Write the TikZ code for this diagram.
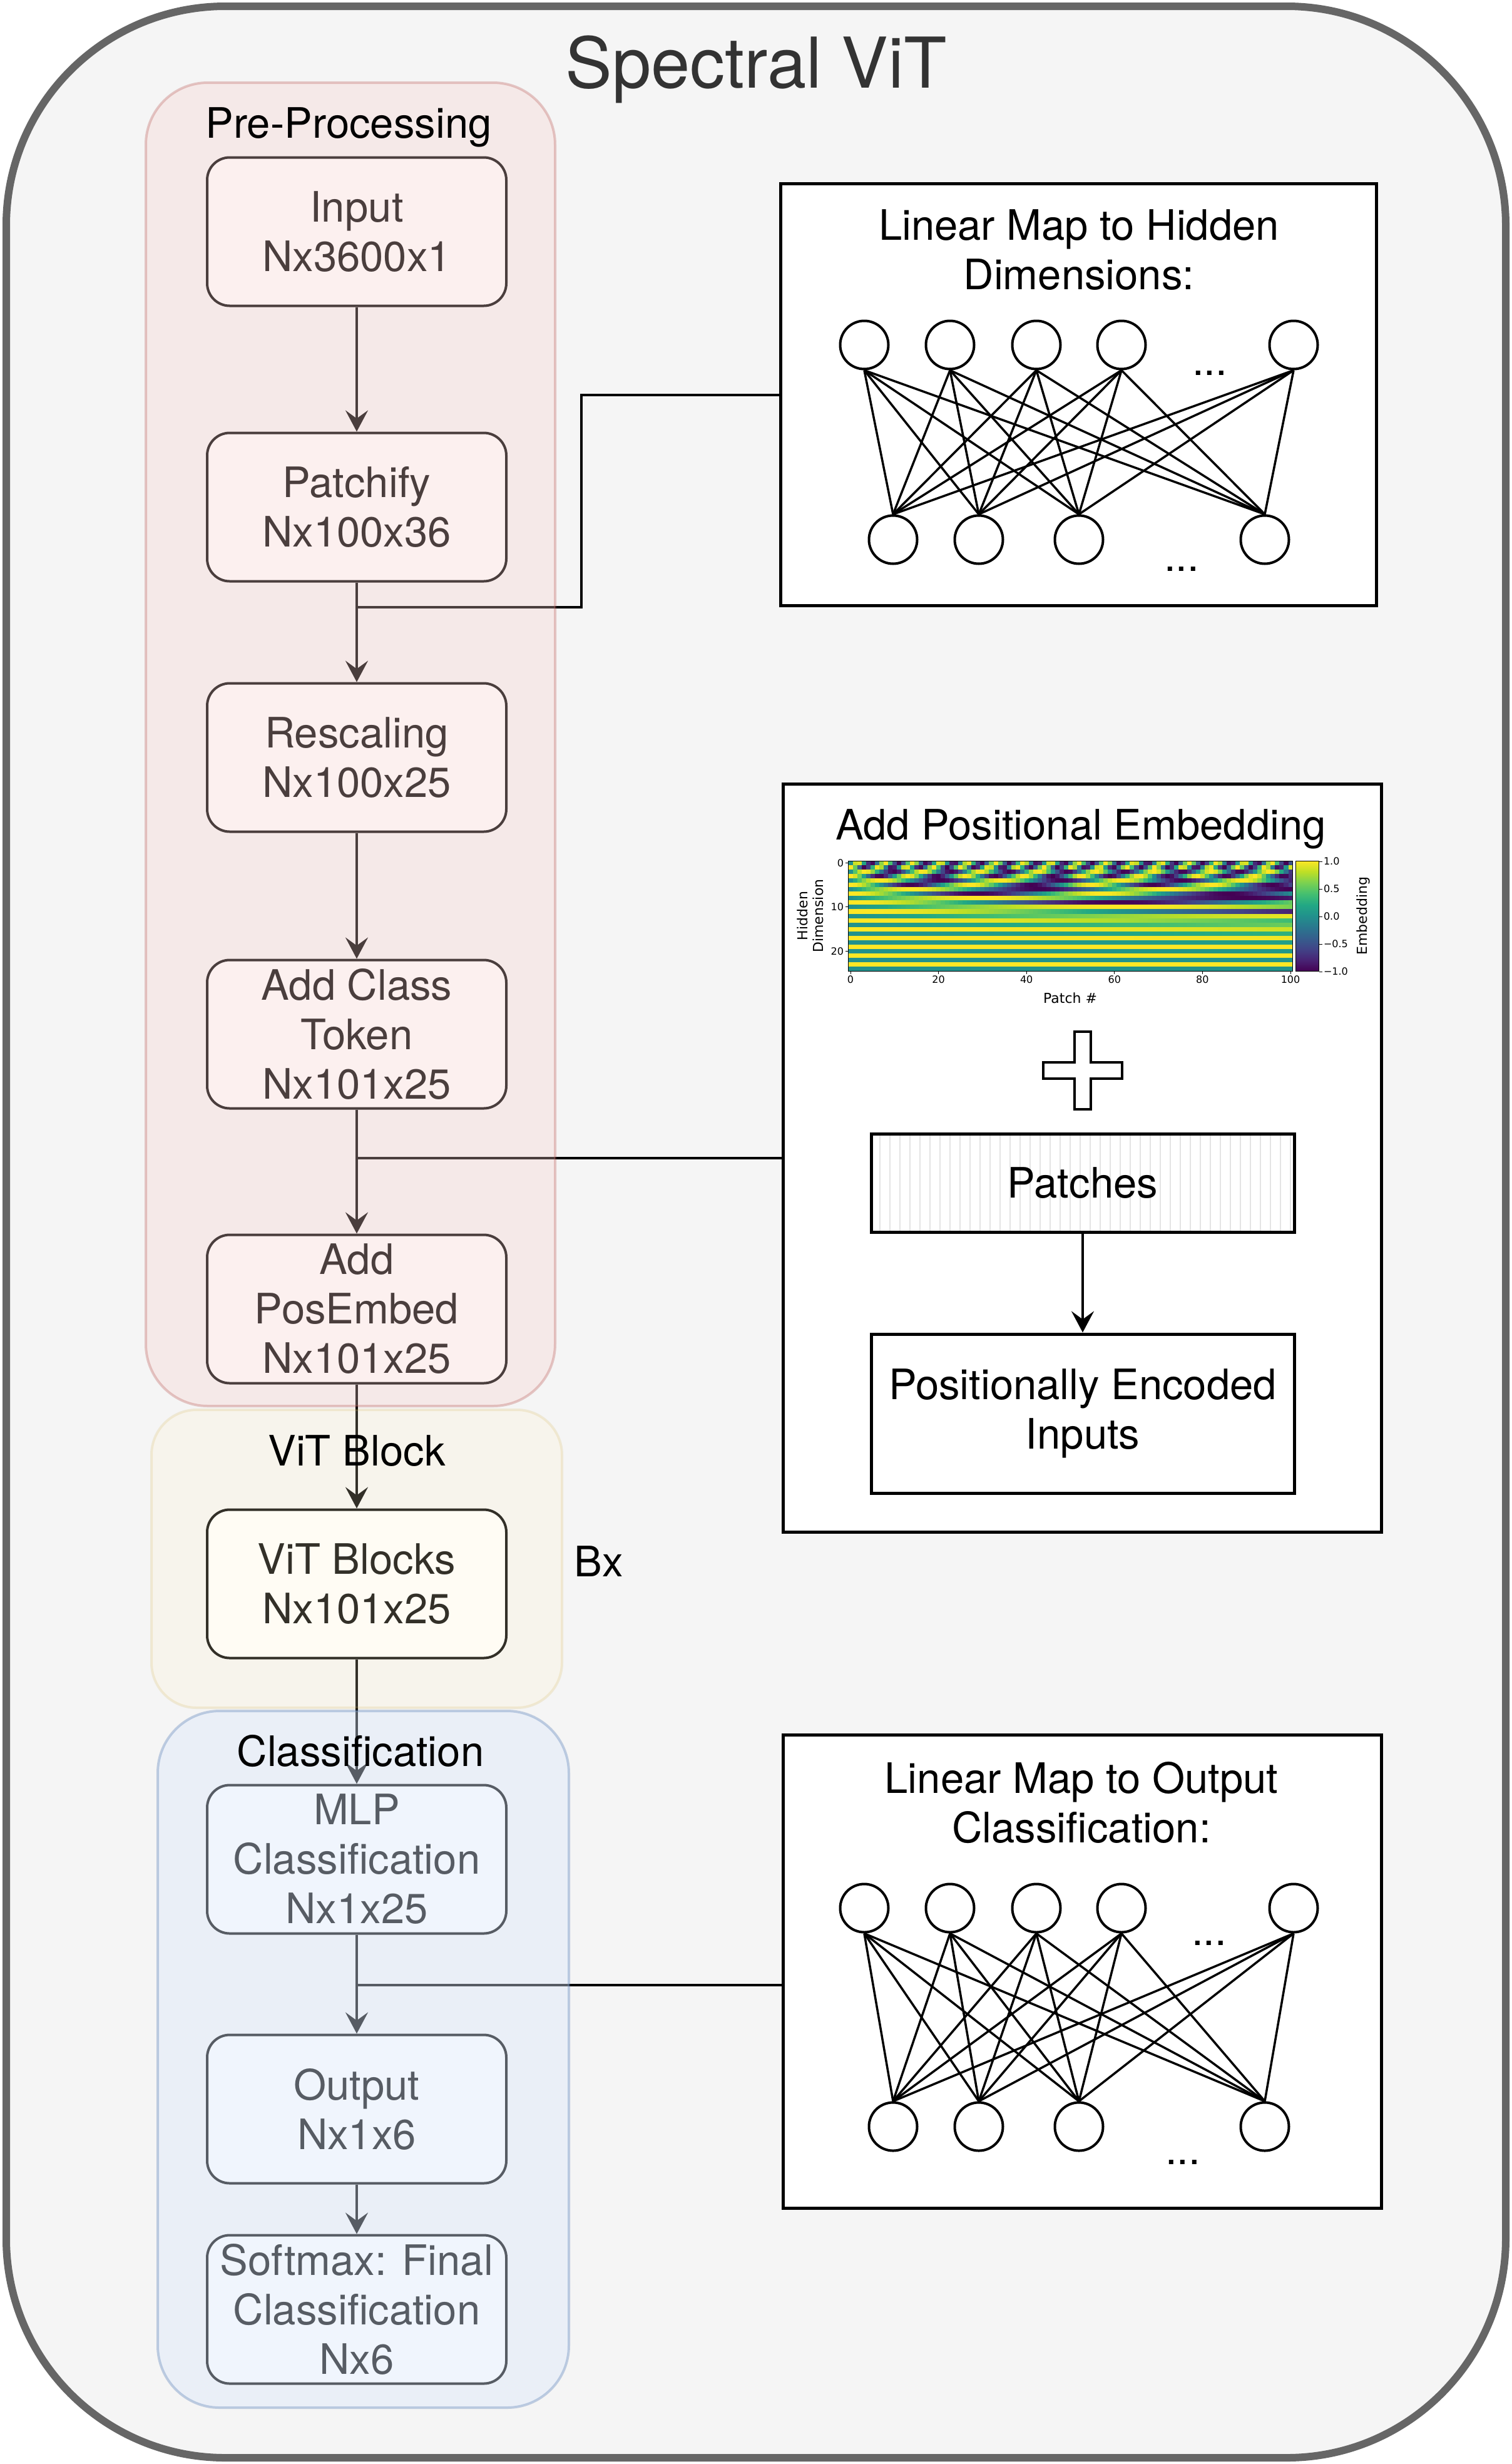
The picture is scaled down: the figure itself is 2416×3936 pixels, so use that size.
\documentclass[tikz,border=0pt]{standalone}
\usepackage{fontspec}
\setmainfont{TeX Gyre Heros}
\newfontfamily\plotfont{DejaVu Sans}
\usetikzlibrary{arrows.meta}

\definecolor{outerfill}{HTML}{F5F5F5}
\definecolor{outerline}{HTML}{666666}
\definecolor{titlegray}{HTML}{333333}
\definecolor{prefill}{HTML}{F8CECC}
\definecolor{preline}{HTML}{B85450}
\definecolor{vitfill}{HTML}{FFF2CC}
\definecolor{vitline}{HTML}{D6B656}
\definecolor{clsfill}{HTML}{DAE8FC}
\definecolor{clsline}{HTML}{6C8EBF}
\definecolor{hatchgray}{HTML}{E4E4E4}
\definecolor{vir0}{HTML}{440154}
\definecolor{vir1}{HTML}{482475}
\definecolor{vir2}{HTML}{414487}
\definecolor{vir3}{HTML}{355F8D}
\definecolor{vir4}{HTML}{2A788E}
\definecolor{vir5}{HTML}{21918C}
\definecolor{vir6}{HTML}{22A884}
\definecolor{vir7}{HTML}{44BF70}
\definecolor{vir8}{HTML}{7AD151}
\definecolor{vir9}{HTML}{BDDF26}
\definecolor{vir10}{HTML}{FDE725}

\tikzset{
	big/.style={font=\fontsize{67}{79}\selectfont},
	stage/.style={big, draw=black, fill=white, line width=4pt, rounded corners=36pt,
		minimum width=478pt, minimum height=237pt, inner sep=0pt, align=center},
	flow/.style={line width=4pt, -{Stealth[length=34pt, width=36pt, inset=13pt]}},
	link/.style={line width=4pt},
	group/.style={line width=4pt, rounded corners=99pt},
	panel/.style={draw=black, fill=white, line width=5pt, inner sep=0pt},
	neuron/.style={circle, draw=black, fill=white, line width=4pt, minimum size=77pt, inner sep=0pt},
	wire/.style={line width=3.5pt},
	hatch/.style={draw=hatchgray, line width=1.5pt},
	axtick/.style={line width=1pt},
	ticklabel/.style={font=\plotfont\fontsize{16}{19}\selectfont, inner sep=2pt},
	axlabel/.style={font=\plotfont\fontsize{22}{25}\selectfont, inner sep=0pt},
}

\begin{document}
\begin{tikzpicture}[x=1pt, y=-1pt]
	\useasboundingbox (0,0) rectangle (2416,3936);

	\draw[line width=12pt, draw=outerline, fill=outerfill, rounded corners=350pt] (10,10) rectangle (2406,3926);
	\node[anchor=base, font=\fontsize{112}{134}\selectfont, text=titlegray] (title) at (1208,140) {Spectral ViT};

	% right panels
	\node[panel, minimum width=952pt, minimum height=674pt] (maphid) at (1723.5,630.5) {};
	\node[anchor=north, big, align=center, inner sep=0pt] (hidlbl) at (1724,334) {Linear Map to Hidden\\Dimensions:};
	\node[panel, minimum width=956pt, minimum height=1195pt] (mappos) at (1729.5,1850) {};
	\node[anchor=north, big, inner sep=0pt] (poslbl) at (1727,1292) {Add Positional Embedding};
	\node[panel, minimum width=956pt, minimum height=756pt] (mapout) at (1729.5,3149.5) {};
	\node[anchor=north, big, align=center, inner sep=0pt] (outlbl) at (1728,2814) {Linear Map to Output\\Classification:};

	\foreach \net/\ty/\by in {h/551/862, o/3048/3397}{
		\foreach \x [count=\i] in {1381,1518,1656,1792,2067}
			\node[neuron] (\net t\i) at (\x,\ty) {};
		\foreach \x [count=\j] in {1427,1564,1724,2021}
			\node[neuron] (\net b\j) at (\x,\by) {};
		\foreach \i in {1,...,5}
			\foreach \j in {1,...,4}
				\draw[wire] (\net t\i.south) -- (\net b\j.north);
	}
	\node[big, anchor=base] (hdotst) at (1933,599) {...};
	\node[big, anchor=base] (hdotsb) at (1888,912) {...};
	\node[big, anchor=base] (odotst) at (1932,3107) {...};
	\node[big, anchor=base] (odotsb) at (1890,3457) {...};

	% positional embedding heat map
	\begin{scope}
		\clip (1355.5,1375) rectangle (2065.5,1551);
		\foreach \row in {0,...,24}{
			\pgfmathsetmacro\fr{57.29578/(10000^((\row-mod(\row,2))/25))}
			\foreach \col in {0,...,100}{
				\ifodd\row\relax
					\pgfmathsetmacro\v{cos(\col*\fr)}
				\else
					\pgfmathsetmacro\v{sin(\col*\fr)}
				\fi
				\pgfmathsetmacro\tv{(\v+1)*5}
				\pgfmathtruncatemacro\ka{min(\tv,9.99)}
				\pgfmathtruncatemacro\pc{100-100*(\tv-\ka)}
				\pgfmathtruncatemacro\kb{\ka+1}
				\fill[vir\ka!\pc!vir\kb] (1355.5+\col*7.03, 1375+\row*7.04) rectangle ++(7.6,7.6);
			}
		}
	\end{scope}
	\draw[axtick] (1355.5,1375) rectangle (2065.5,1551);
	\foreach \n in {0,20,...,100}
		\draw[axtick] (1359+\n*7.03,1551) -- ++(0,5) node[below, ticklabel] {\n};
	\foreach \n in {0,10,20}
		\draw[axtick] (1355.5,1378.5+\n*7.04) -- ++(-5,0) node[left, ticklabel] {\n};
	\node[axlabel] (patchlbl) at (1710,1594) {Patch \#};
	\node[axlabel, rotate=90, align=center] (dimlbl) at (1295,1463) {Hidden\\Dimension};

	\foreach \lo [count=\hi] in {0,...,9}
		\shade[bottom color=vir\lo, top color=vir\hi] (2070,1551-\lo*17.6) rectangle (2107.5,1551-\hi*17.6);
	\draw[axtick] (2070,1375) rectangle (2107.5,1551);
	\foreach \val/\y in {1.0/1376, 0.5/1420, 0.0/1464, −0.5/1508, −1.0/1552}
		\draw[axtick] (2107.5,\y) -- ++(5,0) node[right, ticklabel] {\val};
	\node[axlabel, rotate=90] (emblbl) at (2178,1463) {Embedding};

	\draw[line width=4pt, fill=white] (1717,1648) -- (1743,1648) -- (1743,1697) -- (1793,1697) -- (1793,1723)
		-- (1743,1723) -- (1743,1772) -- (1717,1772) -- (1717,1723) -- (1667,1723) -- (1667,1697) -- (1717,1697) -- cycle;

	\node[panel, big, minimum width=676pt, minimum height=157pt,
		path picture={\foreach \hx in {14,30,...,670}
			\draw[hatch] ([xshift=\hx pt]path picture bounding box.south west) -- ([xshift=\hx pt]path picture bounding box.north west);}]
		(patches) at (1730,1889.5) {Patches};
	\node[panel, big, align=center, minimum width=676pt, minimum height=254pt] (encoded) at (1730,2258) {Positionally Encoded\\Inputs};
	\draw[flow] (patches) -- (encoded);

	% main pipeline
	\node[stage] (inp) at (570,370) {Input\\Nx3600x1};
	\node[stage] (patchify) at (570,810) {Patchify\\Nx100x36};
	\node[stage] (rescale) at (570,1210) {Rescaling\\Nx100x25};
	\node[stage] (clstok) at (570,1652) {Add Class\\Token\\Nx101x25};
	\node[stage] (posemb) at (570,2091) {Add\\PosEmbed\\Nx101x25};
	\node[stage] (vit) at (570,2530) {ViT Blocks\\Nx101x25};
	\node[stage] (mlp) at (570,2970) {MLP\\Classification\\Nx1x25};
	\node[stage] (output) at (570,3369) {Output\\Nx1x6};
	\node[stage] (softmax) at (570,3689) {Softmax: Final\\Classification\\Nx6};

	\draw[flow] (inp) -- (patchify);
	\draw[flow] (patchify) -- (rescale);
	\draw[flow] (rescale) -- (clstok);
	\draw[flow] (clstok) -- (posemb);
	\draw[flow] (posemb) -- (vit);
	\draw[flow] (vit) -- (mlp);
	\draw[flow] (mlp) -- (output);
	\draw[flow] (output) -- (softmax);

	\coordinate (j1) at (570,970);
	\coordinate (k1) at (929,970);
	\draw[link] (j1) -- (k1) |- (maphid.west);
	\coordinate (j2) at (570,1850);
	\draw[link] (j2) -- (j2 -| mappos.west);
	\coordinate (j3) at (570,3171);
	\draw[link] (j3) -- (j3 -| mapout.west);

	% translucent groups over the pipeline
	\draw[group, fill=prefill, draw=preline, fill opacity=0.3, draw opacity=0.3] (233,132) rectangle (887,2246);
	\draw[group, rounded corners=72pt, fill=vitfill, draw=vitline, fill opacity=0.2, draw opacity=0.2] (242,2252) rectangle (898,2728);
	\draw[group, fill=clsfill, draw=clsline, fill opacity=0.4, draw opacity=0.4] (252,2733) rectangle (909,3846);

	\node[anchor=base, big] (prelbl) at (557,220) {Pre-Processing};
	\node[anchor=base, big] (vitlbl) at (570,2341) {ViT Block};
	\node[anchor=base, big] (clslbl) at (576,2821) {Classification};
	\node[big] (bx) at (957,2494) {Bx};

\end{tikzpicture}
\end{document}
